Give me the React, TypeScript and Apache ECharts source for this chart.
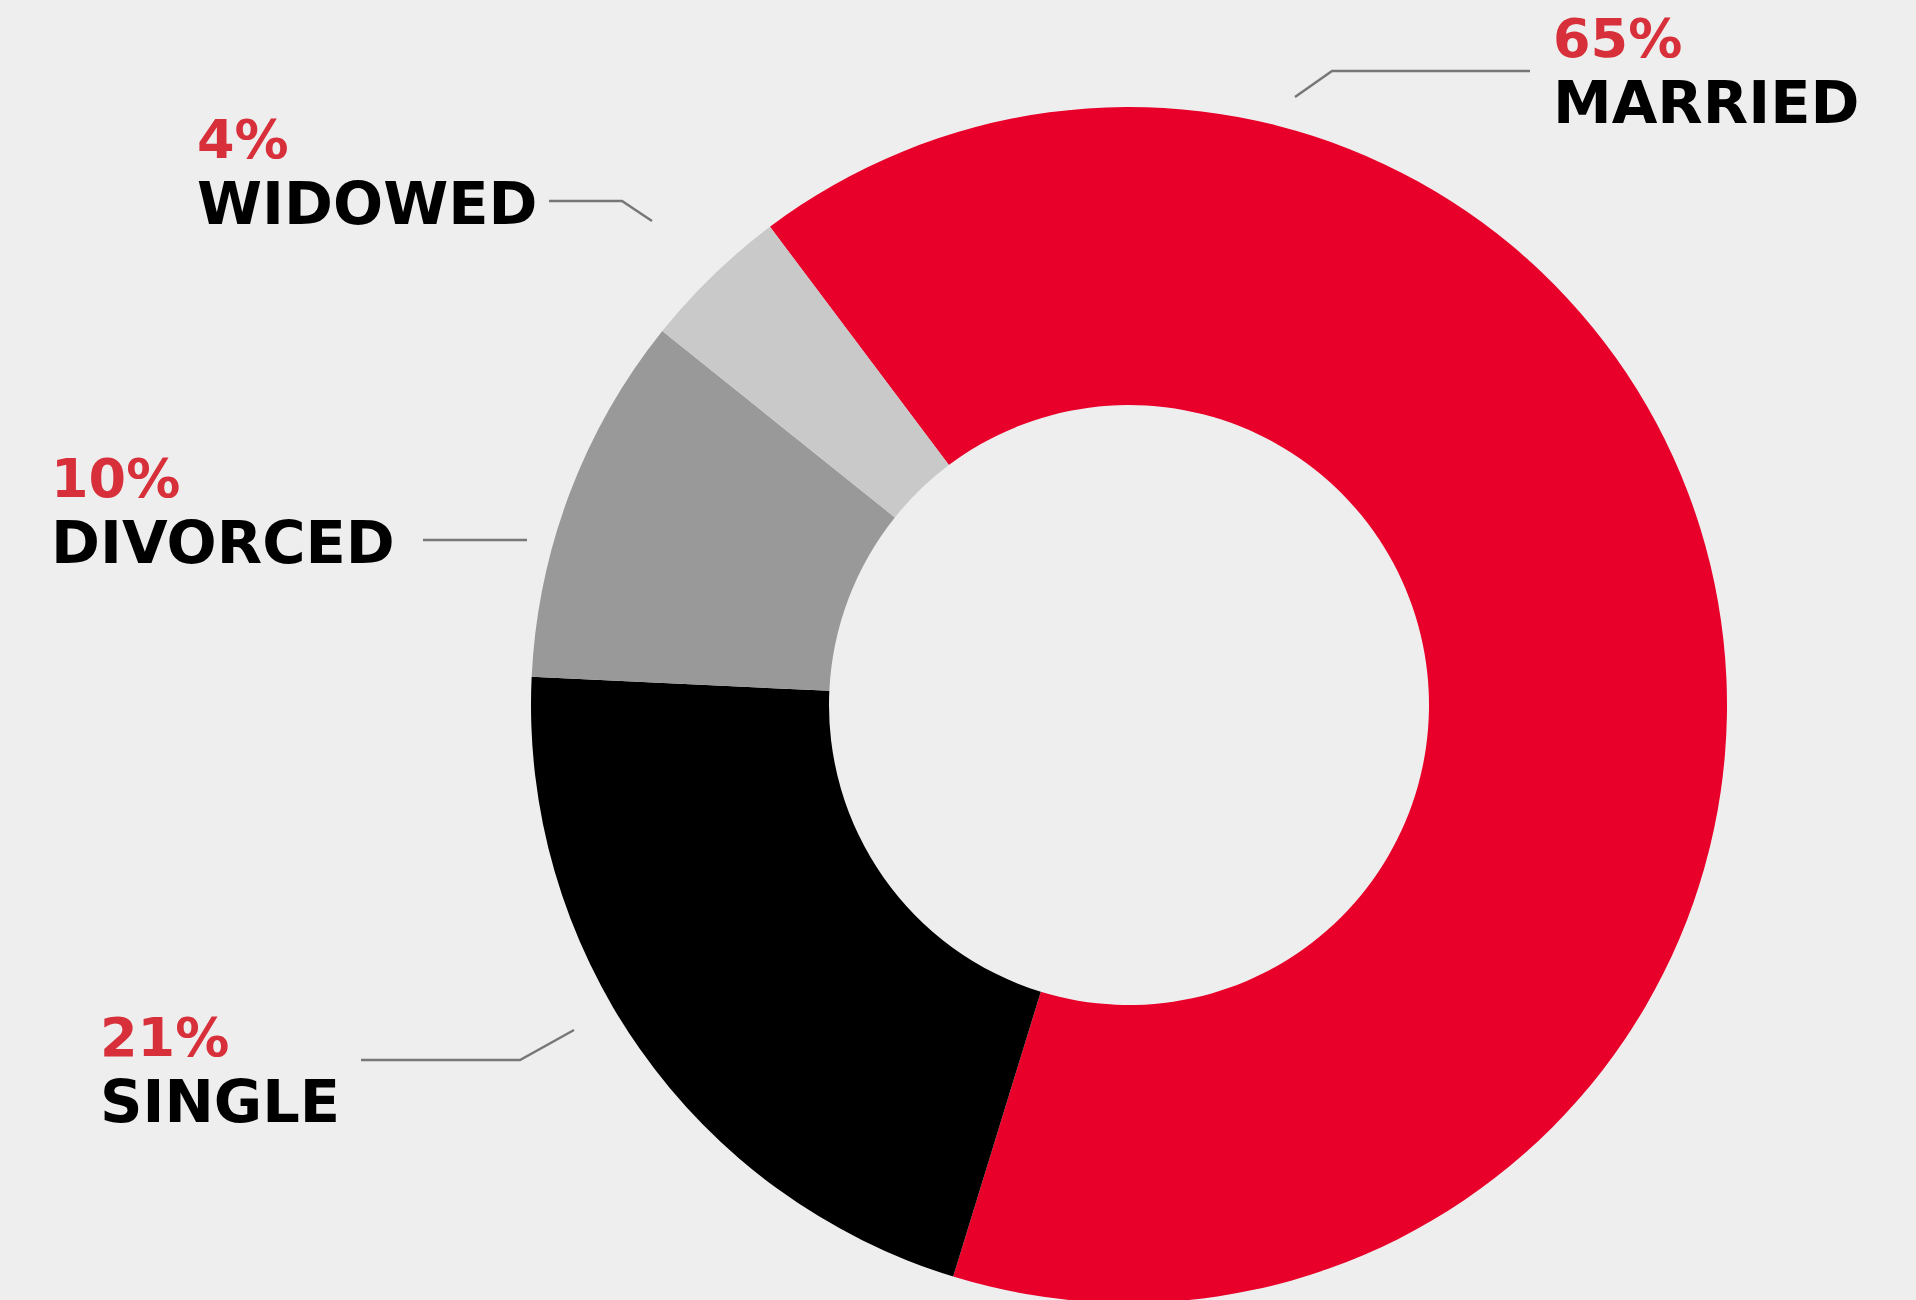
import React, { useEffect, useRef } from "react";
import * as echarts from "echarts";

// ---- data ----
const categories: string[] = ["MARRIED", "SINGLE", "DIVORCED", "WIDOWED"];
const shares: number[] = [65, 21, 10, 4];

// ---- styles ----
const sliceColors = ["#e8002a", "#000000", "#999999", "#c9c9c9"];
const BG = "#eeeeee";
const PCT_COLOR = "#d8303a";
const LINE_COLOR = "#777777";
const FONT = "DejaVu Sans";

// label block top-left anchors (px) and leader line points per category index
const labelAnchors: [number, number][] = [
  [1553, 8],
  [100, 1007],
  [51, 448],
  [197, 109],
];
const leaderLines: [number, number][][] = [
  [[1295, 97], [1332, 71], [1530, 71]],
  [[574, 1030], [520, 1060], [361, 1060]],
  [[527, 540], [475, 540], [423, 540]],
  [[652, 221], [622, 201], [549, 201]],
];

export default function App() {
  const ref = useRef<HTMLDivElement>(null);
  useEffect(() => {
    if (!ref.current) return;
    const chart = echarts.init(ref.current, undefined, { renderer: "svg" });
    chart.setOption({
      animation: false,
      backgroundColor: BG,
      series: [
        {
          type: "pie",
          center: [1129, 705],
          radius: [300, 598],
          startAngle: 126.9,
          clockwise: true,
          avoidLabelOverlap: false,
          silent: true,
          data: categories.map((name, i) => ({
            name,
            value: shares[i],
            itemStyle: { color: sliceColors[i] },
          })),
          label: {
            show: true,
            position: "outside",
            formatter: (p: any) => `{p|${p.value}%}\n{n|${p.name}}`,
            rich: {
              p: {
                fontFamily: FONT,
                fontWeight: "bold",
                fontSize: 54,
                lineHeight: 60,
                color: PCT_COLOR,
              },
              n: {
                fontFamily: FONT,
                fontWeight: "bold",
                fontSize: 59,
                lineHeight: 68,
                color: "#000000",
              },
            },
          },
          labelLine: {
            show: true,
            smooth: false,
            lineStyle: { color: LINE_COLOR, width: 2.5 },
          },
          labelLayout: (params: any) => {
            const i = params.dataIndex;
            return {
              x: labelAnchors[i][0],
              y: labelAnchors[i][1],
              align: "left",
              verticalAlign: "top",
              labelLinePoints: leaderLines[i],
            };
          },
        },
      ],
    });
    return () => chart.dispose();
  }, []);
  return (
    <div
      ref={ref}
      style={{ position: "fixed", left: 0, top: 0, width: 1916, height: 1300, background: BG }}
    />
  );
}
